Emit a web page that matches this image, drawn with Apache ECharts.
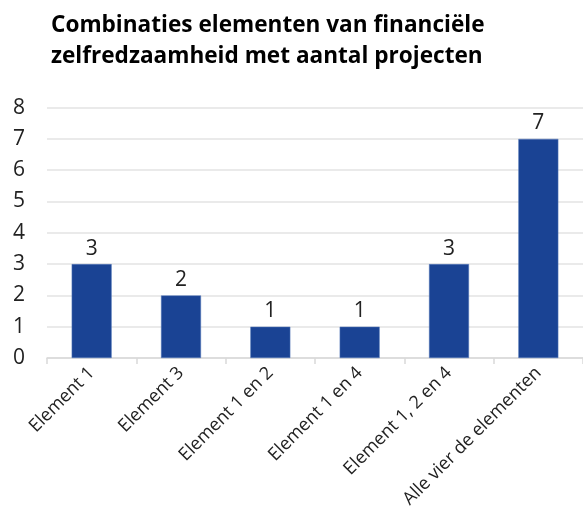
<!DOCTYPE html>
<html><head><meta charset="utf-8">
<script src="https://cdn.jsdelivr.net/npm/echarts@6/dist/echarts.min.js"></script>
<style>html,body{margin:0;padding:0;background:#fff}#c{width:583px;height:522px}</style>
</head><body><div id="c"></div>
<script>
var titleText = 'Combinaties elementen van financiële\nzelfredzaamheid met aantal projecten';
var categories = ['Element 1','Element 3','Element 1 en 2','Element 1 en 4','Element 1, 2 en 4','Alle vier de elementen'];
var values = [3,2,1,1,3,7];
var yTicks = {min:0, max:8, interval:1};
var FONT = '"Open Sans", "Noto Sans", sans-serif';
var chart = echarts.init(document.getElementById('c'));
chart.setOption({
  animation:false,
  title:{text:titleText,left:46,top:5,textStyle:{fontFamily:FONT,fontSize:22.6,fontWeight:'bold',color:'#000',lineHeight:31}},
  grid:{left:47,right:0,top:107.6,bottom:164,containLabel:false},
  xAxis:{type:'category',data:categories,
    axisLine:{lineStyle:{color:'#d9d9d9',width:1.5}},
    axisTick:{show:true,length:6,lineStyle:{color:'#d9d9d9',width:1.5}},
    axisLabel:{rotate:45,interval:0,margin:12,fontFamily:FONT,fontSize:18,color:'#222'}},
  yAxis:{type:'value',min:yTicks.min,max:yTicks.max,interval:yTicks.interval,
    axisLine:{show:false},axisTick:{show:false},
    splitLine:{lineStyle:{color:'#e3e3e3',width:1.5}},
    axisLabel:{margin:22,fontFamily:FONT,fontSize:21,color:'#222'}},
  series:[{type:'bar',data:values,barWidth:40,
    itemStyle:{color:'#1a4394',borderColor:'#5a7dbd',borderWidth:0.5},
    label:{show:true,position:'top',distance:5,fontFamily:FONT,fontSize:21,color:'#222'}}]
});
</script></body></html>
